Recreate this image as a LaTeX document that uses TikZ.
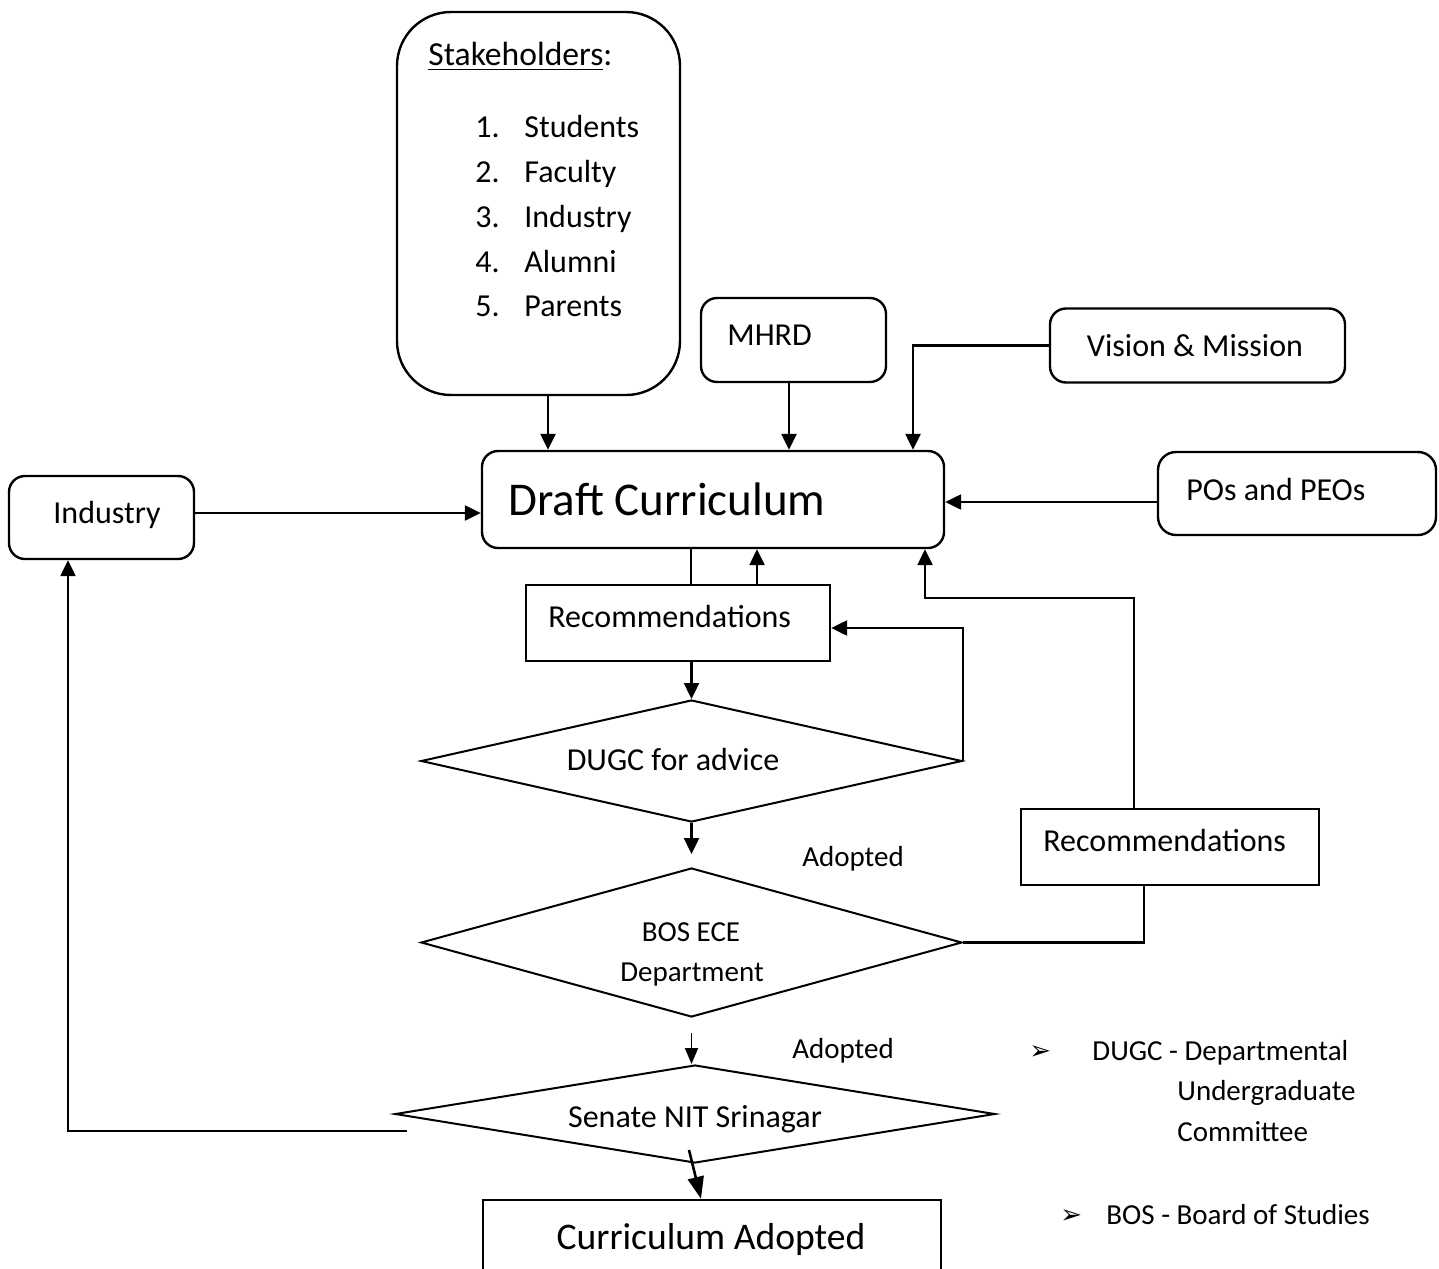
\documentclass[tikz,border=0pt]{standalone}
\usepackage{fontspec}
\setmainfont{Carlito}
\newfontfamily\symfont{DejaVu Sans}
\usetikzlibrary{shapes.geometric,arrows.meta}
\begin{document}
\begin{tikzpicture}[x=0.5pt,y=-0.5pt,
  rbox/.style={draw, line width=1.2pt, rounded corners=8pt, inner sep=0pt},
  sbox/.style={draw, line width=1.2pt, inner sep=0pt},
  dia/.style={draw, diamond, aspect=1, line width=1pt, inner sep=0pt},
  arr/.style={line width=1.2pt, -{Triangle[length=8pt,width=7.5pt]}},
  thinarr/.style={line width=0.9pt, -{Triangle[length=8pt,width=6.5pt]}},
  wire/.style={line width=1.2pt},
  txt/.style={inner sep=0pt, font=\fontsize{16}{19}\selectfont},
  small/.style={inner sep=0pt, font=\fontsize{14.5}{17}\selectfont},
  big/.style={inner sep=0pt, font=\fontsize{23.5}{27}\selectfont},
  mid/.style={inner sep=0pt, font=\fontsize{18.8}{22}\selectfont},
  bullet/.style={inner sep=0pt, font=\symfont\fontsize{13}{15}\selectfont}]
\clip (0,0) rectangle (1439,1268);

% boxes
\node[rbox, rounded corners=27pt, minimum width=141.5pt, minimum height=191.5pt] (stake) at (538.5,203.5) {};
\node[rbox, minimum width=92.5pt, minimum height=42pt] (mhrd) at (793.5,340) {};
\node[rbox, minimum width=147.5pt, minimum height=37pt] (vision) at (1197.5,345.5) {};
\node[rbox, minimum width=231pt, minimum height=48.5pt] (draft) at (713,499.5) {};
\node[rbox, rounded corners=9pt, minimum width=139pt, minimum height=41.5pt] (pos) at (1297,493.5) {};
\node[rbox, minimum width=92.5pt, minimum height=41.5pt] (ind) at (101.5,517.5) {};
\node[sbox, minimum width=152pt, minimum height=38pt] (rec1) at (678,623) {};
\node[dia, minimum width=270.5pt, minimum height=61pt] (dugc) at (691.5,761) {};
\node[dia, minimum width=270.5pt, minimum height=74.5pt] (bos) at (691.5,942.5) {};
\node[dia, minimum width=300pt, minimum height=49pt] (senate) at (695,1114) {};
\node[sbox, minimum width=149pt, minimum height=38pt] (rec2) at (1170,847) {};
\node[sbox, minimum width=229pt, minimum height=45pt] (cur) at (712,1245) {};

% texts
\node[txt, font=\fontsize{16.8}{19}\selectfont, anchor=base west] (stakeT) at (428,66) {\underline{Stakeholders}:};
\node[txt, anchor=base west] (s1) at (475,138) {\makebox[24.5pt][l]{1.}Students};
\node[txt, anchor=base west] (s2) at (475,182) {\makebox[24.5pt][l]{2.}Faculty};
\node[txt, anchor=base west] (s3) at (475,227) {\makebox[24.5pt][l]{3.}Industry};
\node[txt, anchor=base west] (s4) at (475,272) {\makebox[24.5pt][l]{4.}Alumni};
\node[txt, anchor=base west] (s5) at (475,316) {\makebox[24.5pt][l]{5.}Parents};
\node[txt, anchor=base west] (mhrdT) at (727,345) {MHRD};
\node[txt, anchor=base] (visionT) at (1195,356) {Vision \& Mission};
\node[big, anchor=base west] (draftT) at (508,515) {Draft Curriculum};
\node[txt, anchor=base west] (posT) at (1186,500) {POs and PEOs};
\node[txt, anchor=base] (indT) at (107,523) {Industry};
\node[txt, anchor=base west] (rec1T) at (548,627) {Recommendations};
\node[txt, anchor=base] (dugcT) at (673,770) {DUGC for advice};
\node[small, anchor=base] (bosT1) at (691,941) {BOS ECE};
\node[small, anchor=base] (bosT2) at (692,981) {Department};
\node[small, anchor=base] (ad1) at (853,866) {Adopted};
\node[small, anchor=base] (ad2) at (843,1058) {Adopted};
\node[txt, anchor=base west] (rec2T) at (1043,851) {Recommendations};
\node[txt, anchor=base] (senateT) at (695,1127) {Senate NIT Srinagar};
\node[mid, anchor=base] (curT) at (711,1249) {Curriculum Adopted};

% abbreviations
\node[bullet, anchor=base west] (b1) at (1029,1059) {➢};
\node[small, anchor=base west] (l1) at (1092,1060) {DUGC - Departmental};
\node[small, anchor=base west] (l2) at (1177,1100) {Undergraduate};
\node[small, anchor=base west] (l3) at (1177,1141) {Committee};
\node[bullet, anchor=base west] (b2) at (1060,1223) {➢};
\node[small, anchor=base west] (l4) at (1106,1224) {BOS - Board of Studies};

% connector columns and rows
\coordinate (x68) at (68,0);
\coordinate (x548) at (548,0);
\coordinate (x691) at (691,0);
\coordinate (x701) at (701,0);
\coordinate (x757) at (757,0);
\coordinate (x789) at (789,0);
\coordinate (x913) at (913,0);
\coordinate (x925) at (925,0);
\coordinate (x1134) at (1134,0);
\coordinate (x1144) at (1144,0);
\coordinate (y502) at (0,502);
\coordinate (y513) at (0,513);
\coordinate (y598) at (0,598);
\coordinate (y628) at (0,628);
\coordinate (sl) at (407,1131);
\coordinate (sb) at (689,1150);

% connectors
\draw[arr] (stake.south -| x548) -- (draft.north -| x548);
\draw[arr] (mhrd.south -| x789) -- (draft.north -| x789);
\draw[arr] (vision.west) -| (draft.north -| x913);
\draw[arr] (pos.west |- y502) -- (draft.east |- y502);
\draw[arr] (ind.east |- y513) -- (draft.west |- y513);
\draw[wire] (draft.south -| x691) -- (rec1.north -| x691);
\draw[arr] (rec1.north -| x757) -- (draft.south -| x757);
\draw[arr] (rec1.south -| dugc.north) -- (dugc.north);
\draw[arr] (dugc.east) -- (dugc.east |- y628) -- (rec1.east |- y628);
\draw[arr, shorten >=6.5pt] (dugc.south) -- (bos.north);
\draw[wire] (bos.east) -| (rec2.south -| x1144);
\draw[arr] (rec2.north -| x1134) |- (x925 |- y598) -- (draft.south -| x925);
\draw[thinarr, shorten <=7.5pt] (bos.south) -- (senate.north -| bos.south);
\draw[line width=1.3pt, -{Triangle[length=11pt,width=8pt]}] (sb) -- (cur.north -| x701);
\draw[arr] (sl) -| (ind.south -| x68);
\end{tikzpicture}
\end{document}
